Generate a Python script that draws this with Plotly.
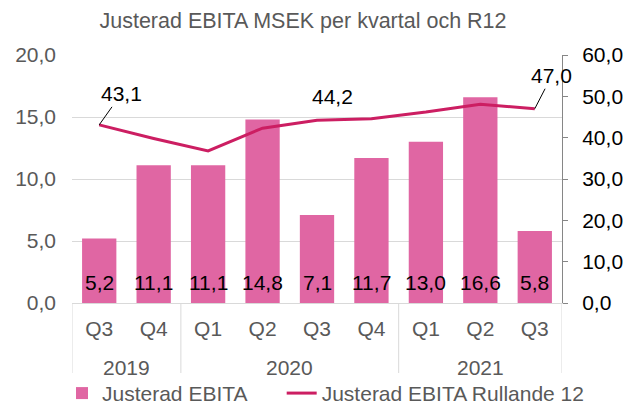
import plotly.graph_objects as go

years = ["2019", "2019", "2020", "2020", "2020", "2020", "2021", "2021", "2021"]
quarters = ["Q3", "Q4", "Q1", "Q2", "Q3", "Q4", "Q1", "Q2", "Q3"]
ebita = [5.2, 11.1, 11.1, 14.8, 7.1, 11.7, 13.0, 16.6, 5.8]
r12 = [43.1, 39.8, 36.8, 42.3, 44.2, 44.6, 46.2, 48.1, 47.0]
r12_labelled = [0, 4, 8]

FONT = "Liberation Sans, Arial, sans-serif"
FS = 21
BAR_COLOR = "#E066A3"
LINE_COLOR = "#CC1E62"
GRAY = "#595959"
LIGHT = "#D9D9D9"

keys = [f"{y} {q}" for y, q in zip(years, quarters)]

def fmt(v):
    return f"{v:.1f}".replace(".", ",")

fig = go.Figure()
fig.add_trace(go.Bar(
    x=keys, y=ebita, name="Justerad EBITA" + "\u00a0" * 5,
    marker=dict(color=BAR_COLOR, line=dict(width=0)),
))
fig.add_trace(go.Scatter(
    x=keys, y=r12, name="Justerad EBITA Rullande 12",
    mode="lines", line=dict(color=LINE_COLOR, width=3), yaxis="y2",
))

# bar value labels near the base of each bar
for i, v in enumerate(ebita):
    fig.add_annotation(x=i, y=0, xref="x", yref="y", text=fmt(v), showarrow=False,
                       yanchor="middle", yshift=21,
                       font=dict(size=FS, color="black", family=FONT))

offsets = {0: (22, -31, True), 4: (15, -24, False), 8: (17, -33, True)}
for i in r12_labelled:
    ax, ay, arrow = offsets[i]
    if arrow:
        fig.add_annotation(x=i, y=r12[i], xref="x", yref="y2", text=fmt(r12[i]),
                           showarrow=True, arrowhead=0, arrowwidth=1, arrowcolor="black",
                           ax=ax, ay=ay, font=dict(size=FS, color="black", family=FONT))
    else:
        fig.add_annotation(x=i, y=r12[i], xref="x", yref="y2", text=fmt(r12[i]),
                           showarrow=False, xshift=ax, yshift=-ay,
                           font=dict(size=FS, color="black", family=FONT))

# year group labels and dividers (from the data's year column)
groups = []
for i, y in enumerate(years):
    if groups and groups[-1][0] == y:
        groups[-1][2] = i
    else:
        groups.append([y, i, i])
bounds = set()
for y, a, b in groups:
    fig.add_annotation(x=(a + b) / 2, y=0, xref="x", yref="paper", text=y,
                       showarrow=False, yanchor="middle", yshift=-64,
                       font=dict(size=FS, color=GRAY, family=FONT))
    bounds.add(a - 0.5)
    bounds.add(b + 0.5)
for xb in sorted(bounds):
    fig.add_shape(type="line", x0=xb, x1=xb, xref="x", y0=0, y1=-0.31, yref="paper",
                  line=dict(color=LIGHT, width=1))

fig.update_layout(
    width=626, height=405,
    margin=dict(l=72, r=64, t=55, b=102, autoexpand=False),
    paper_bgcolor="white", plot_bgcolor="white",
    separators=", ",
    font=dict(family=FONT, size=FS, color=GRAY),
    title=dict(text="Justerad EBITA MSEK per kvartal och R12", x=303/626, xref="container",
               xanchor="center", y=1 - 20/405, yanchor="middle",
               font=dict(size=21.5, color=GRAY, family=FONT)),
    bargap=0.37,
    showlegend=True,
    legend=dict(orientation="h", x=-10/490, xanchor="left", xref="paper",
                y=-0.282, yanchor="top", yref="paper",
                font=dict(size=FS, color=GRAY, family=FONT)),
    xaxis=dict(type="category", showline=True, linecolor=LIGHT, linewidth=1,
               showgrid=False, ticks="", tickvals=keys, ticktext=quarters, tickangle=0,
               range=[-0.5, len(keys) - 0.5], automargin=False, ticklabelstandoff=7,
               tickfont=dict(size=FS, color=GRAY, family=FONT)),
    yaxis=dict(range=[0, 20], dtick=5, tickformat=".1f", showgrid=True,
               gridcolor=LIGHT, gridwidth=1, zeroline=False, showline=False,
               automargin=False, ticklabelstandoff=15,
               tickfont=dict(size=FS, color=GRAY, family=FONT), ticks=""),
    yaxis2=dict(range=[0, 60], dtick=10, tickformat=".1f", overlaying="y", side="right",
                showgrid=False, zeroline=False, showline=True, linecolor="#868686",
                ticks="outside", ticklen=5, tickcolor="#868686", automargin=False,
                ticklabelstandoff=10,
                tickfont=dict(size=FS, color="black", family=FONT)),
)

fig.write_html("out.html", config={"displayModeBar": False},
               post_script="document.body.style.margin='0';")
